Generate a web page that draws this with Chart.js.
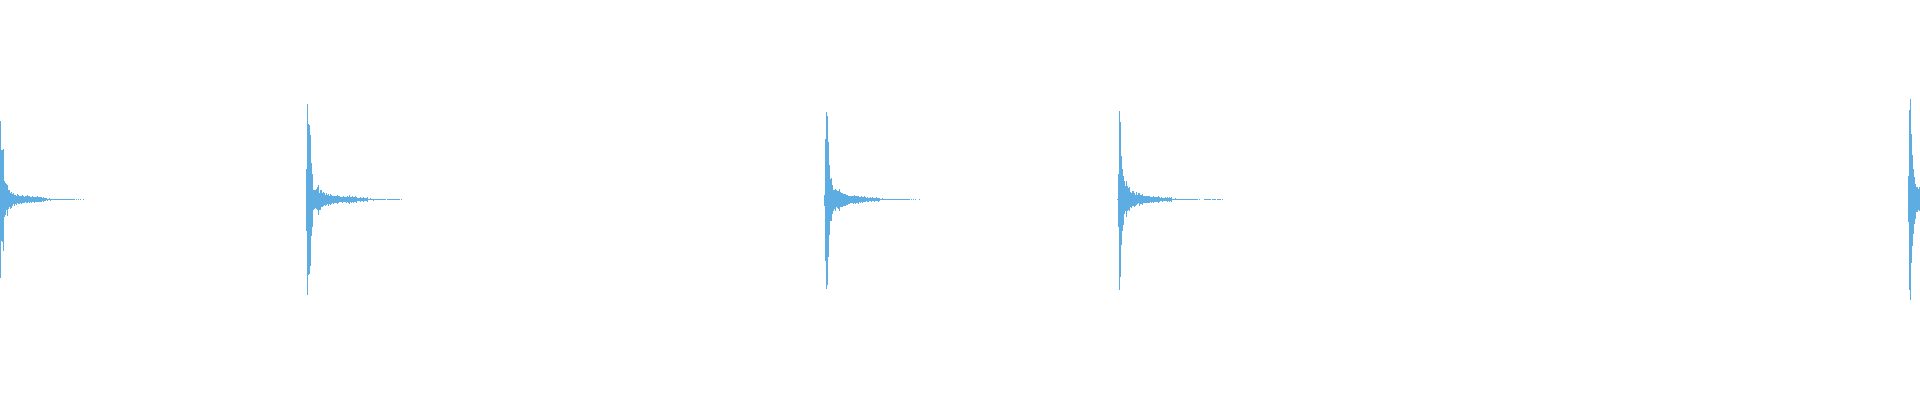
<!DOCTYPE html>
<html>
<head>
<meta charset="utf-8">
<script src="https://cdn.jsdelivr.net/npm/chart.js"></script>
<style>
  html, body { margin: 0; padding: 0; background: #ffffff; overflow: hidden; }
  #wrap { width: 1920px; height: 400px; position: relative; }
</style>
</head>
<body>
<div id="wrap"><canvas id="c"></canvas></div>
<script>
// Number of pixel columns (x categories)
const columnCount = 1920;
const waveColor = '#5DADE2';

// Each burst: start column, amplitude above and below centre (px beyond the 1px centre row); null = gap
const burst1Start = 0;
const burst1Up = [78,49,49,50,18,16,15,14,9,9, 6,7,5,6,4,4,3,5,4,3, 3,3,4,3,2,3,3,4,3,3, 2,2,3,2,2,2,2,3,2,2, 2,2,1,2,1,
  1,1,0,0,1,0,0,0,0,0, 0,0,0,0,0,0,0,0,0,0, 0,0,0,0,0,0,0,0, 0,0,null,0,null,0,null,0,null,null,0];
const burst1Down = [78,41,42,51,17,15,10,16,9,7, 9,8,6,4,6,4,5,3,4,4, 3,4,3,3,3,2,3,3,2,3, 2,3,2,2,3,2,2,2,2,2, 2,2,1,2,1,
  1,0,1,0,0,1,0,0,0,0, 0,0,0,0,0,0,0,0,0,0, 0,0,0,0,0,0,0,0, 0,0,null,0,null,0,null,0,null,null,0];

const burst2Start = 306;
const burst2Up = [30,95,75,74,64,36,25,9,9,9, 10,12,14,6,9,9,6,7,6,4, 6,4,5,3,5,4,3,3,3,3, 3,4,3,3,2,2,2,3,2,2,
  2,3,2,4,2,2,3,2,2,3, 2,1,1,1,2,1,1,2,1,1, 1,2,0,0,1,0,0,0,0,0, 0,0,0,0,0,0,0,0,0,0, null,0,0,0,0,0,0,0,0,0, 0,0,0,0,null,0];
const burst2Down = [31,95,75,74,66,36,27,10,9,8, 9,10,15,10,10,7,7,6,5,6, 5,4,6,4,5,4,3,4,3,3, 3,4,3,2,2,2,3,2,2,2,
  3,2,3,4,2,3,2,3,2,2, 3,1,1,1,2,1,1,2,1,1, 1,2,0,0,0,0,0,1,0,0, 0,0,0,0,0,0,0,0,0,0, null,0,0,0,0,0,0,0,0,0, 0,0,0,0,null,0];

const burst3Start = 824;
const burst3Up = [4,60,87,83,57,34,20,21,14,9, 9,10,9,8,8,10,7,6,6,5, 5,5,4,4,3,3,3,3,3,3, 4,3,3,3,3,2,2,3,2,2,
  3,2,1,2,1,1,2,1,2,1, 1,1,2,1,1,1,0,0,1,0, 0,0,0,0,0,0,0,0,0,0, 0,0,0,0,0,0,0,0,0,0, 0,0,0,0,0,0,null,0,null,0, null,0,null,null,null,0];
const burst3Down = [6,61,89,85,57,35,21,21,14,11, 9,11,7,8,9,11,7,7,7,6, 6,6,5,5,4,4,3,3,3,4, 3,4,3,3,4,2,3,2,3,2,
  2,2,1,2,2,1,1,2,1,1, 2,1,1,1,2,1,0,0,0,0, 0,0,0,0,0,0,0,0,0,0, 0,0,0,0,0,0,0,0,0,0, 0,0,0,0,0,0,null,0,null,0, null,0,null,null,null,0];

const burst4Start = 1117;
const burst4Up = [0,25,88,77,43,30,23,18,13,18, 13,11,12,7,6,8,8,6,4,7, 4,6,6,4,4,5,3,3,3,3, 3,3,3,2,2,2,3,2,2,2,
  2,3,2,1,2,1,1,1,2,1, 2,1,2,1,2,0,0,0,1,0, 0,0,0,0,0,0,0,0,0,0, 0,0,0,0,0,0,0,0,0,0,
  0,null,0,null,null,null,null,0,0,0, 0,0,0,0,null,0,0,0,0,null, 0,0,0,0,null,0];
const burst4Down = [0,27,90,77,45,31,25,14,11,17, 11,10,11,7,8,6,6,7,6,5, 4,3,6,4,4,5,3,3,3,3, 3,3,3,2,3,2,3,2,2,2,
  2,3,2,1,1,2,1,1,1,1, 2,1,2,1,2,0,0,0,0,0, 0,0,0,0,0,0,0,0,0,0, 0,0,0,0,0,0,0,0,0,0,
  0,null,0,null,null,null,null,0,0,0, 0,0,0,0,null,0,0,0,0,null, 0,0,0,0,null,0];

const burst5Start = 1908;
const burst5Up = [23,89,100,65,44,30,22,15,12,12,10,12];
const burst5Down = [22,90,100,63,46,34,24,19,12,12,10,11];

const bursts = [
  [burst1Start, burst1Up, burst1Down],
  [burst2Start, burst2Up, burst2Down],
  [burst3Start, burst3Up, burst3Down],
  [burst4Start, burst4Up, burst4Down],
  [burst5Start, burst5Up, burst5Down]
];

const labels = [];
const values = [];
for (let i = 0; i < columnCount; i++) { labels.push(String(i)); values.push(null); }
bursts.forEach(([start, up, down]) => {
  for (let i = 0; i < up.length; i++) {
    const col = start + i;
    if (col >= columnCount || up[i] === null) continue;
    values[col] = [-(down[i] + 0.5), up[i] + 0.5];
  }
});

new Chart(document.getElementById('c'), {
  type: 'bar',
  data: {
    labels: labels,
    datasets: [{
      data: values,
      backgroundColor: waveColor,
      borderWidth: 0,
      barPercentage: 1,
      categoryPercentage: 1,
      inflateAmount: 0
    }]
  },
  options: {
    responsive: true,
    maintainAspectRatio: false,
    animation: false,
    events: [],
    layout: { padding: 0 },
    plugins: { legend: { display: false }, tooltip: { enabled: false } },
    scales: {
      x: { display: false, offset: true, grid: { display: false } },
      y: { display: false, min: -200.5, max: 199.5, grid: { display: false } }
    }
  }
});
</script>
</body>
</html>
